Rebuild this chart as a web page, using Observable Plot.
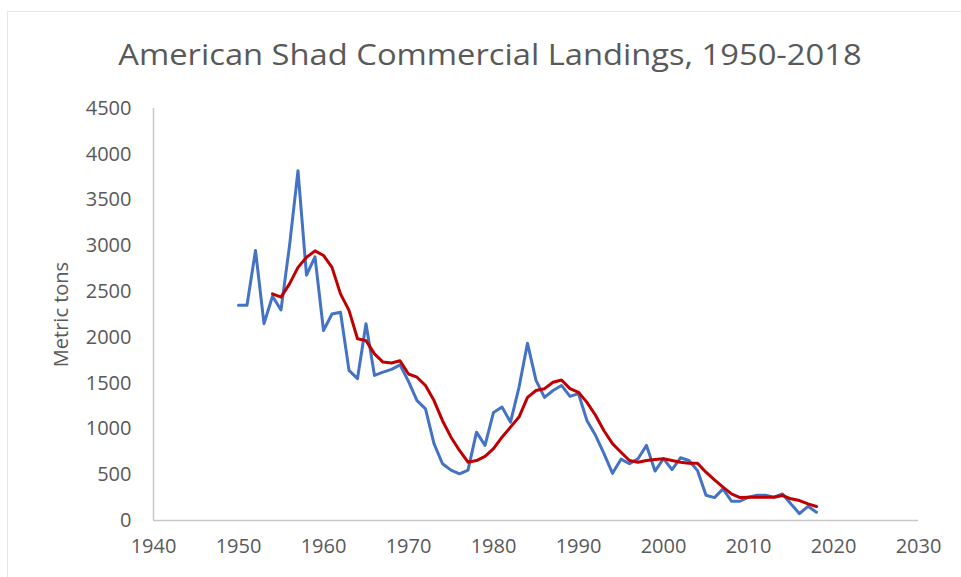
<!DOCTYPE html>
<html>
<head>
<meta charset="utf-8">
<script src="https://cdn.jsdelivr.net/npm/d3@7"></script>
<script src="https://cdn.jsdelivr.net/npm/@observablehq/plot@0.6"></script>
<style>
  html, body { margin: 0; padding: 0; background: #fff; }
  #wrap { position: relative; width: 961px; height: 577px; overflow: hidden; background: #fff; }
  #frame { position: absolute; left: 7px; top: 11px; width: 970px; height: 570px; border: 1px solid #e6e6e6; box-sizing: border-box; pointer-events: none; }
  #title { position: absolute; left: 0; top: 33px; width: 980px; text-align: center;
           font-family: "Open Sans", sans-serif; font-size: 30px; color: #595959; line-height: 42px;
           transform: scaleX(1.09); transform-origin: 490px 0; }
  #chart { position: absolute; left: 0; top: 0; }
</style>
</head>
<body>
<div id="wrap">
  <div id="frame"></div>
  <div id="title">American Shad Commercial Landings, 1950-2018</div>
  <div id="chart"></div>
</div>
<script>
const titleText = "American Shad Commercial Landings, 1950-2018";
const yLabel = "Metric tons";

const landingYears = d3.range(1950, 2019);
const landings = [
  2350, 2350, 2950, 2150, 2450, 2300, 3000, 3820, 2680, 2880,
  2075, 2255, 2275, 1640, 1550, 2150, 1585, 1620, 1650, 1700,
  1520, 1310, 1220, 840, 620, 550, 510, 550, 965, 820,
  1180, 1240, 1075, 1455, 1935, 1530, 1345, 1420, 1475, 1355,
  1385, 1090, 930, 730, 515, 670, 620, 675, 820, 540,
  675, 555, 685, 655, 545, 275, 250, 345, 210, 210,
  255, 275, 275, 255, 290, 180, 75, 155, 90
];

const avgYears = d3.range(1954, 2019);
const movingAvg = [
  2475, 2440, 2585, 2765, 2875, 2945,
  2895, 2765, 2475, 2295, 1985, 1965, 1820, 1730, 1720, 1745,
  1600, 1565, 1475, 1310, 1090, 910, 765, 637, 655, 700,
  785, 910, 1020, 1130, 1345, 1420, 1440, 1510, 1535, 1440,
  1400, 1290, 1150, 980, 840, 746, 655, 637, 655, 665,
  674, 655, 637, 626, 626, 528, 444, 364, 290, 250,
  255, 255, 255, 255, 273, 237, 218, 182, 153
];

const xTicks = d3.range(1940, 2031, 10);
const yTicks = d3.range(0, 4501, 500);

const blue = landingYears.map((year, i) => ({year, value: landings[i]}));
const red = avgYears.map((year, i) => ({year, value: movingAvg[i]}));

const chart = Plot.plot({
  width: 961,
  height: 577,
  marginLeft: 153,
  marginRight: 43,
  marginTop: 108,
  marginBottom: 57,
  style: { fontFamily: "'Open Sans', sans-serif", fontSize: "20px", color: "#595959", background: "transparent" },
  x: { domain: [1940, 2030] },
  y: { domain: [0, 4500] },
  marks: [
    Plot.ruleX([1940], { stroke: "#c8c8c8", strokeWidth: 1.5 }),
    Plot.ruleY([0], { stroke: "#c8c8c8", strokeWidth: 1.5 }),
    Plot.axisX({ ticks: xTicks, tickFormat: d3.format("d"), tickSize: 0, tickPadding: 18, label: null, fill: "#595959" }),
    Plot.axisY({ ticks: yTicks, tickFormat: d3.format("d"), tickSize: 0, tickPadding: 22, label: yLabel, labelAnchor: "center", labelArrow: "none", labelOffset: 100, fill: "#595959" }),
    Plot.line(blue, { x: "year", y: "value", stroke: "#4472c4", strokeWidth: 3 }),
    Plot.line(red, { x: "year", y: "value", stroke: "#c00000", strokeWidth: 3 })
  ]
});
document.getElementById("chart").appendChild(chart);
</script>
</body>
</html>
